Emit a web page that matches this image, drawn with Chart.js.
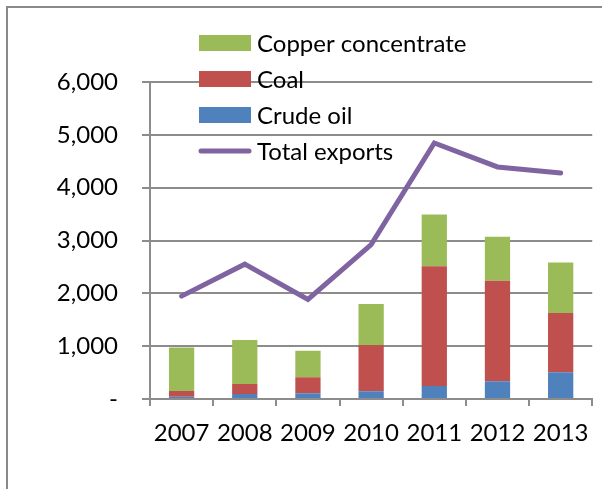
<!DOCTYPE html>
<html>
<head>
<meta charset="utf-8">
<title>Exports by commodity</title>
<script src="https://cdn.jsdelivr.net/npm/chart.js@4"></script>
<style>
    html, body { margin: 0; padding: 0; background: #fff; }
    #wrap { position: relative; width: 602px; height: 489px; }
</style>
</head>
<body>
<div id="wrap"><canvas id="exportsChart" width="602" height="489"></canvas></div>
<script>
// --- DATA ---
const years = ['2007', '2008', '2009', '2010', '2011', '2012', '2013'];
const crudeOil = [44, 95, 107, 145, 246, 334, 504];
const coal = [107, 189, 303, 876, 2268, 1903, 1122];
const copperConcentrate = [826, 831, 504, 775, 977, 832, 958];
const totalExports = [1947, 2552, 1884, 2924, 4846, 4392, 4279];
const yTicks = [0, 1000, 2000, 3000, 4000, 5000, 6000];

const FONT = 'Lato';
const FONT_SIZE = 24;
const GRID = '#8c8c8c';

// frame around the whole chart (top and left edges only)
const framePlugin = {
    id: 'frame',
    beforeDraw(chart) {
        const ctx = chart.ctx;
        ctx.save();
        ctx.strokeStyle = '#8a8a8a';
        ctx.lineWidth = 2;
        ctx.beginPath();
        ctx.moveTo(7, 489);
        ctx.lineTo(7, 7);
        ctx.lineTo(602, 7);
        ctx.stroke();
        ctx.restore();
    }
};

// legend drawn inside the plot, bars listed top-down then the line
const legendPlugin = {
    id: 'insideLegend',
    afterDraw(chart) {
        const ctx = chart.ctx;
        const ds = chart.data.datasets;
        const order = [2, 1, 0, 3];
        ctx.save();
        ctx.font = `${FONT_SIZE}px ${FONT}`;
        ctx.textBaseline = 'middle';
        order.forEach((idx, i) => {
            const d = ds[idx];
            const y = 43 + i * 36;
            if (d.type === 'line') {
                ctx.strokeStyle = d.borderColor;
                ctx.lineWidth = 5;
                ctx.lineCap = 'round';
                ctx.beginPath();
                ctx.moveTo(201, y);
                ctx.lineTo(249, y);
                ctx.stroke();
            } else {
                ctx.fillStyle = d.backgroundColor;
                ctx.fillRect(199, y - 8, 52, 16);
            }
            ctx.fillStyle = '#000';
            ctx.fillText(d.label, 257, y + 1);
        });
        ctx.restore();
    }
};

function buildChart() {
    const ctx = document.getElementById('exportsChart').getContext('2d');
    new Chart(ctx, {
        type: 'bar',
        data: {
            labels: years,
            datasets: [
                { label: 'Crude oil', data: crudeOil, backgroundColor: '#4f81bd', stack: 's', order: 2 },
                { label: 'Coal', data: coal, backgroundColor: '#c0504d', stack: 's', order: 2 },
                { label: 'Copper concentrate', data: copperConcentrate, backgroundColor: '#9bbb59', stack: 's', order: 2 },
                {
                    type: 'line',
                    label: 'Total exports',
                    data: totalExports,
                    borderColor: '#8064a2',
                    borderWidth: 5,
                    borderCapStyle: 'round',
                    borderJoinStyle: 'miter',
                    pointRadius: 0,
                    tension: 0,
                    order: 1
                }
            ]
        },
        options: {
            responsive: false,
            animation: false,
            layout: { padding: { left: 0, top: 82, right: 7, bottom: 0 } },
            datasets: {
                bar: { categoryPercentage: 1, barPercentage: 0.4 }
            },
            scales: {
                x: {
                    stacked: true,
                    afterFit(scale) { scale.height = 90; },
                    grid: {
                        drawOnChartArea: false,
                        drawTicks: true,
                        tickLength: 7,
                        color: GRID,
                        lineWidth: 2
                    },
                    border: { color: GRID, width: 2 },
                    ticks: {
                        color: '#000',
                        font: { family: FONT, size: FONT_SIZE },
                        padding: 13,
                        maxRotation: 0
                    }
                },
                y: {
                    stacked: true,
                    min: 0,
                    max: 6000,
                    afterFit(scale) { scale.width = 150; },
                    afterBuildTicks(scale) {
                        scale.ticks = yTicks.map(v => ({ value: v }));
                    },
                    grid: {
                        color: GRID,
                        lineWidth: 2,
                        tickLength: 8
                    },
                    border: { color: GRID, width: 2 },
                    ticks: {
                        color: '#000',
                        font: { family: FONT, size: FONT_SIZE },
                        padding: 24,
                        callback: v => v === 0 ? '-' : v.toLocaleString('en-US')
                    }
                }
            },
            plugins: {
                legend: { display: false },
                tooltip: { enabled: false }
            }
        },
        plugins: [framePlugin, legendPlugin]
    });
}

document.fonts.load(`${FONT_SIZE}px ${FONT}`).then(buildChart, buildChart);
</script>
</body>
</html>
